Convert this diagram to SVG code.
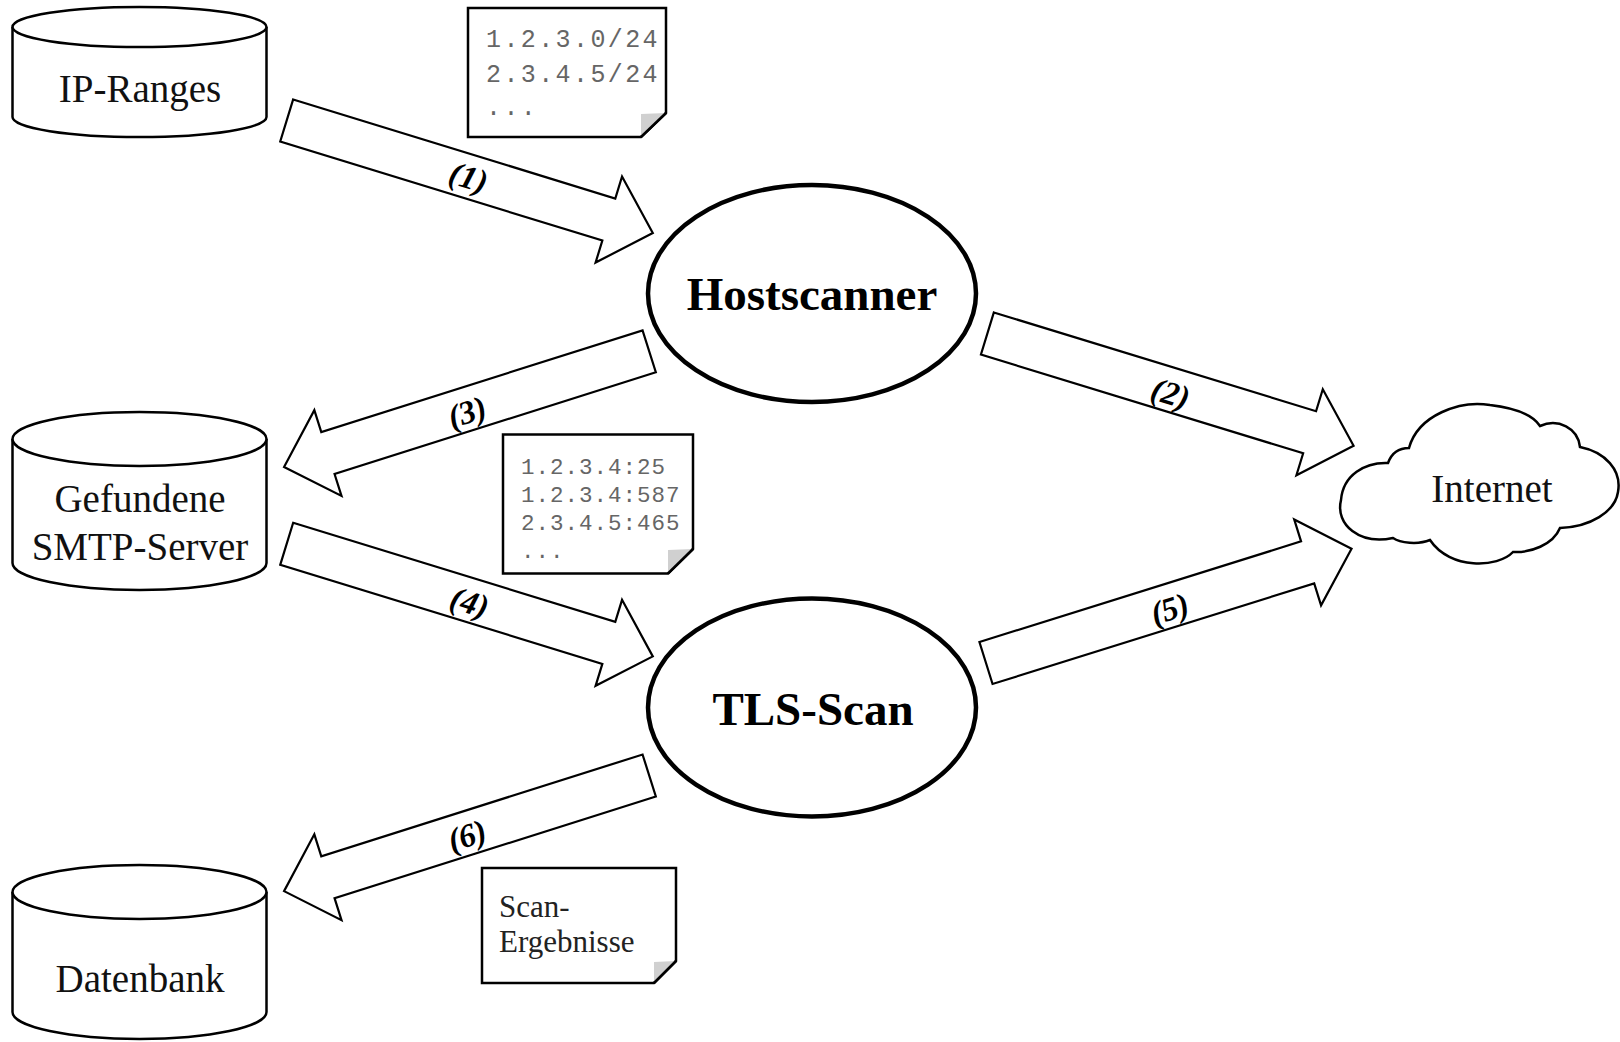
<svg xmlns="http://www.w3.org/2000/svg" xmlns:xlink="http://www.w3.org/1999/xlink" width="1620" height="1042" viewBox="0 0 1620 1042">
<style>
.shape{fill:#fff;stroke:#000;stroke-width:2.5}
.proc{fill:#fff;stroke:#000;stroke-width:4.5}
.arrow{fill:#fff;stroke:#000;stroke-width:2.2;stroke-linejoin:miter}
.fold{fill:#d0d0d0;stroke:none}
.lbl{font-family:"Liberation Serif","Times New Roman",serif;font-size:39px;fill:#111;text-anchor:middle}
.big{font-family:"Liberation Serif","Times New Roman",serif;font-size:47px;font-weight:bold;fill:#000;text-anchor:middle}
.num{font-family:"Liberation Serif","Times New Roman",serif;font-size:33px;font-weight:bold;font-style:italic;fill:#000;text-anchor:middle}
.mono1{font-family:"Liberation Mono","Courier New",monospace;font-size:25px;letter-spacing:2.4px;fill:#666}
.mono2{font-family:"Liberation Mono","Courier New",monospace;font-size:22.5px;letter-spacing:1px;fill:#666}
.note{font-family:"Liberation Serif","Times New Roman",serif;font-size:31px;fill:#222}
</style>
<defs>
<polygon id="blk" points="0,-22 337,-22 337,-45 383,0 337,45 337,22 0,22"/>
</defs>
<rect width="1620" height="1042" fill="#fff"/>

<g id="ip-ranges">
<path class="shape" d="M12.5 27 V117 A127 20 0 0 0 266.5 117 V27"/>
<ellipse class="shape" cx="139.5" cy="27" rx="127" ry="20"/>
<text class="lbl" x="140" y="102">IP-Ranges</text>
</g>

<g id="smtp-server">
<path class="shape" d="M12.5 439 V563 A127 27 0 0 0 266.5 563 V439"/>
<ellipse class="shape" cx="139.5" cy="439" rx="127" ry="27"/>
<text class="lbl" x="140" y="512">Gefundene</text>
<text class="lbl" x="140" y="560">SMTP-Server</text>
</g>

<g id="datenbank">
<path class="shape" d="M12.5 892 V1012 A127 27 0 0 0 266.5 1012 V892"/>
<ellipse class="shape" cx="139.5" cy="892" rx="127" ry="27"/>
<text class="lbl" x="140" y="992">Datenbank</text>
</g>

<g id="hostscanner">
<ellipse class="proc" cx="812" cy="293.5" rx="164" ry="108.5"/>
<text class="big" x="812" y="310">Hostscanner</text>
</g>

<g id="tls-scan">
<ellipse class="proc" cx="812" cy="707.5" rx="164" ry="109"/>
<text class="big" x="813" y="725">TLS-Scan</text>
</g>

<g id="internet">
<path class="shape" d="M1393 538 C1360 545 1335 525 1341 500 C1343 475 1365 462 1388 463 C1392 452 1400 448 1409 448 C1418 415 1460 400 1490 405 C1515 408 1533 415 1540 426 C1558 418 1578 428 1580 447 C1605 452 1622 470 1618 492 C1615 512 1590 527 1560 528 C1553 545 1530 553 1513 552 C1498 568 1450 570 1430 540 C1418 545 1400 543 1393 538 Z"/>
<text class="lbl" x="1492" y="502">Internet</text>
</g>

<g id="note-ranges">
<path class="shape" d="M468 8 H666 V113 L641 137 H468 Z"/>
<polygon class="fold" points="666,113 641,137 641,114"/>
<path d="M666 113 L641 137" fill="none" stroke="#000" stroke-width="2.5"/>
<text class="mono1" x="486" y="47">1.2.3.0/24</text>
<text class="mono1" x="486" y="82">2.3.4.5/24</text>
<text class="mono1" x="486" y="115">...</text>
</g>

<g id="note-hosts">
<path class="shape" d="M503 434.5 H693 V549 L668 573.5 H503 Z"/>
<polygon class="fold" points="693,549 668,573.5 668,550"/>
<path d="M693 549 L668 573.5" fill="none" stroke="#000" stroke-width="2.5"/>
<text class="mono2" x="521" y="474">1.2.3.4:25</text>
<text class="mono2" x="521" y="502">1.2.3.4:587</text>
<text class="mono2" x="521" y="530">2.3.4.5:465</text>
<text class="mono2" x="521" y="558">...</text>
</g>

<g id="note-results">
<path class="shape" d="M482 868 H676 V961 L654 983 H482 Z"/>
<polygon class="fold" points="676,961 654,983 654,962"/>
<path d="M676 961 L654 983" fill="none" stroke="#000" stroke-width="2.5"/>
<text class="note" x="499" y="917">Scan-</text>
<text class="note" x="499" y="952">Ergebnisse</text>
</g>

<g id="connectors">
<use xlink:href="#blk" href="#blk" class="arrow" transform="translate(286.7,120.5) rotate(17.09)"/>
<use xlink:href="#blk" href="#blk" class="arrow" transform="translate(987.4,333.5) rotate(17.04)"/>
<use xlink:href="#blk" href="#blk" class="arrow" transform="translate(649.2,351.3) rotate(162.43)"/>
<use xlink:href="#blk" href="#blk" class="arrow" transform="translate(286.7,543.8) rotate(17.09)"/>
<use xlink:href="#blk" href="#blk" class="arrow" transform="translate(986,663) rotate(-17.37)"/>
<use xlink:href="#blk" href="#blk" class="arrow" transform="translate(649.2,775.5) rotate(162.43)"/>
<text class="num" transform="translate(468.3,178.3) rotate(17.1)" y="10">(1)</text>
<text class="num" transform="translate(1170.4,394.3) rotate(17)" y="10">(2)</text>
<text class="num" transform="translate(467.4,413.3) rotate(-17.6)" y="10">(3)</text>
<text class="num" transform="translate(469.3,603.3) rotate(17.1)" y="10">(4)</text>
<text class="num" transform="translate(1170,610) rotate(-17.4)" y="10">(5)</text>
<text class="num" transform="translate(467.4,836.7) rotate(-17.6)" y="10">(6)</text>
</g>
</svg>
